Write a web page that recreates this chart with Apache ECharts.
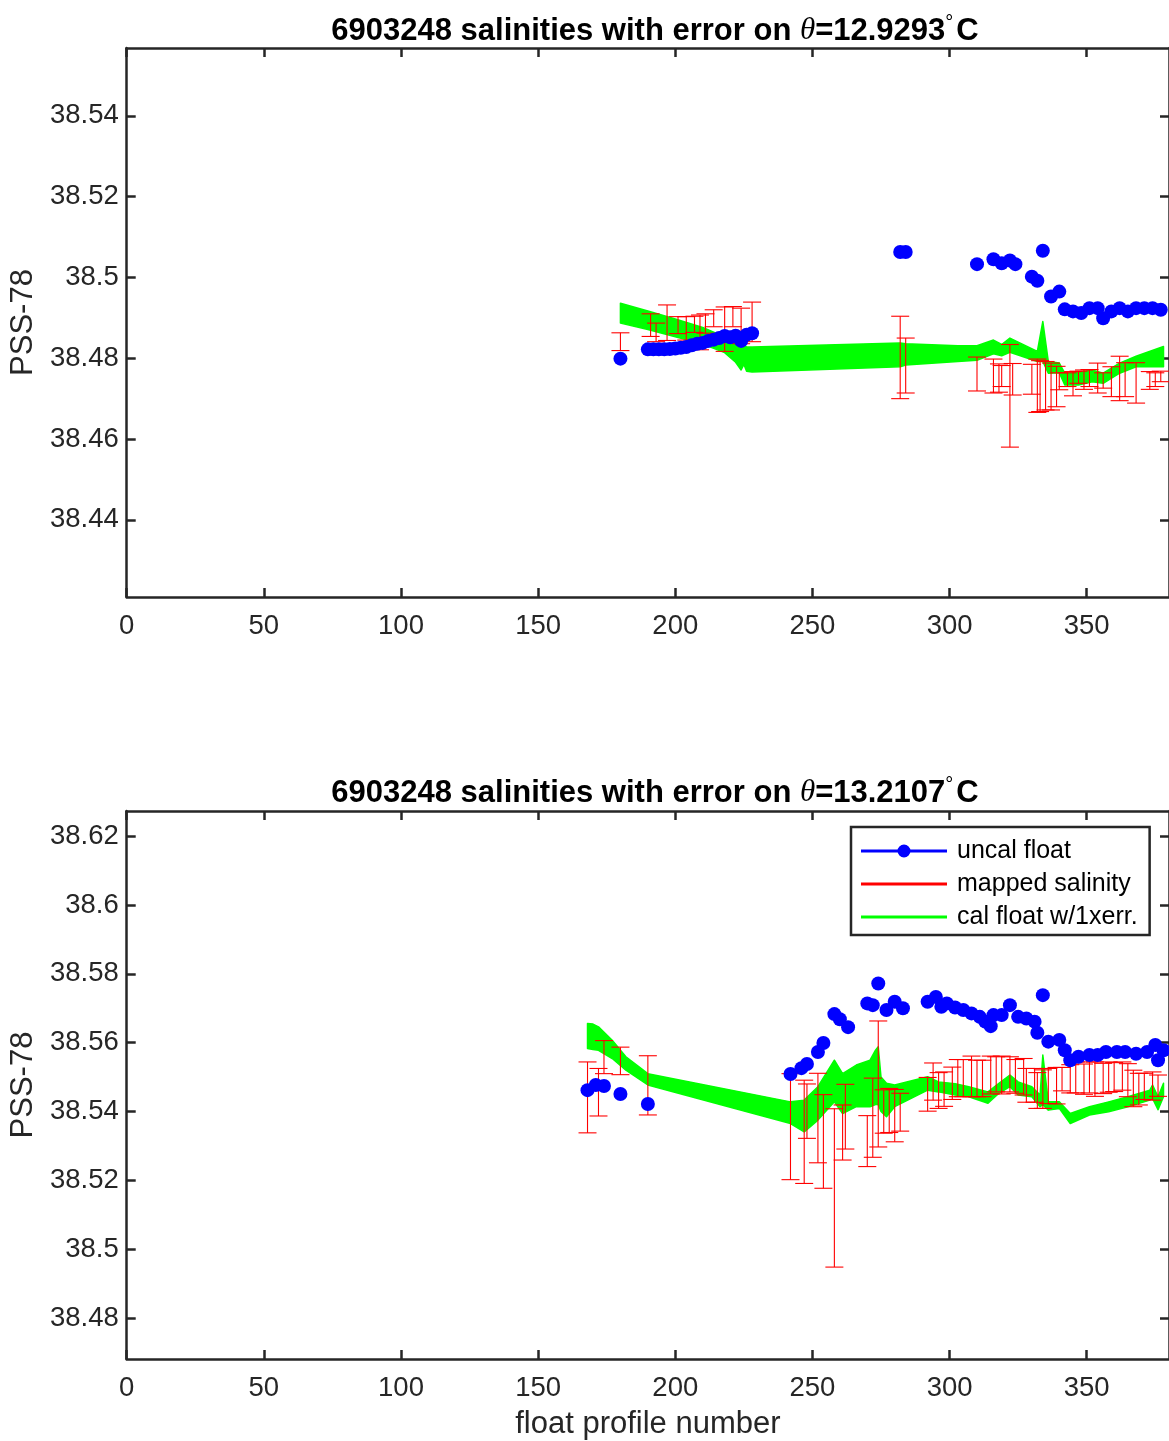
<!DOCTYPE html>
<html>
<head>
<meta charset="utf-8">
<script src="https://cdn.jsdelivr.net/npm/echarts@6/dist/echarts.min.js"></script>
<style>
html,body{margin:0;padding:0;background:#fff;overflow:hidden;}
#chart{width:1169px;height:1441px;}
</style>
</head>
<body>
<div id="chart"></div>
<script>
// ---------- DATA ----------
const xTicks = [0, 50, 100, 150, 200, 250, 300, 350];
const topYTicks = [38.44, 38.46, 38.48, 38.5, 38.52, 38.54];
const botYTicks = [38.48, 38.5, 38.52, 38.54, 38.56, 38.58, 38.6, 38.62];

// top panel (theta = 12.9293)
const topUncalX = [180,190,192,194,196,198,200,202,204,206,208,210,212,214,216,218,220,222,224,226,228,282,284,310,316,319,322,324,330,332,334,337,340,342,345,348,351,354,356,359,362,365,368,371,374,377];
const topUncalS = [38.4799,38.4822,38.4822,38.4822,38.4822,38.4823,38.4824,38.4826,38.4828,38.4832,38.4836,38.4838,38.4843,38.4846,38.4850,38.4855,38.4852,38.4856,38.4843,38.4858,38.4862,38.5063,38.5063,38.5033,38.5045,38.5035,38.5042,38.5033,38.5002,38.4992,38.5066,38.4953,38.4965,38.4921,38.4916,38.4912,38.4924,38.4924,38.4899,38.4916,38.4924,38.4916,38.4924,38.4924,38.4924,38.4920];

const topMapX = [180,191,193,197,201,204,207,209,211,214,218,221,224,228,282,284,310,316,318,319,322,323,330,332,333,335,337,339,340,343,345,347,349,351,354,356,359,362,364,368,373,375,377];
const topMapS = [38.4841,38.4882,38.4864,38.4888,38.4882,38.4874,38.4884,38.4864,38.4886,38.4899,38.4872,38.4903,38.4880,38.4890,38.4802,38.4782,38.4761,38.4756,38.4751,38.4756,38.4707,38.4748,38.4748,38.4732,38.4731,38.4732,38.4730,38.4730,38.4743,38.4747,38.4737,38.4753,38.4747,38.4751,38.4751,38.4745,38.4742,38.4750,38.4747,38.4739,38.4745,38.4747,38.4755];
const topMapErr = [0.0022,0.0028,0.0023,0.0044,0.0021,0.0029,0.0020,0.0043,0.0024,0.0021,0.0055,0.0025,0.0044,0.0049,0.0102,0.0068,0.0042,0.0042,0.0035,0.0026,0.0127,0.0039,0.0037,0.0066,0.0063,0.0060,0.0058,0.0050,0.0021,0.0017,0.0030,0.0015,0.0024,0.0021,0.0037,0.0019,0.0037,0.0055,0.0042,0.0050,0.0022,0.0017,0.0013];

const topBandX = [180,190,200,210,218,222,224,225,226,228,282,284,303,310,316,319,322,332,334,336,340,342,347,352,356,362,368,378];
const topBandLo = [38.4887,38.4871,38.4853,38.4835,38.4814,38.4790,38.4771,38.4785,38.4768,38.4766,38.4779,38.4783,38.4792,38.4795,38.4811,38.4806,38.4815,38.4792,38.4792,38.4763,38.4764,38.4734,38.4734,38.4742,38.4738,38.4763,38.4779,38.4779];
const topBandHi = [38.4936,38.4917,38.4897,38.4876,38.4853,38.4836,38.4830,38.4832,38.4828,38.4828,38.4838,38.4836,38.4831,38.4831,38.4845,38.4834,38.4850,38.4817,38.4891,38.4792,38.4788,38.4763,38.4765,38.4771,38.4763,38.4788,38.4805,38.4829];

// bottom panel (theta = 13.2107)
const botUncalX = [168,171,174,180,190,242,246,248,252,254,258,260,263,270,272,274,277,280,283,292,295,297,299,302,305,308,311,313,315,316,319,322,325,328,331,332,334,336,340,342,344,347,351,354,357,361,364,368,372,375,376,378];
const botUncalS = [38.5462,38.5477,38.5474,38.5451,38.5422,38.5509,38.5526,38.5538,38.5573,38.5599,38.5683,38.5668,38.5645,38.5714,38.5709,38.5772,38.5695,38.5719,38.5700,38.5719,38.5733,38.5704,38.5714,38.5702,38.5695,38.5685,38.5675,38.5661,38.5648,38.5680,38.5680,38.5709,38.5675,38.5670,38.5661,38.5629,38.5738,38.5603,38.5608,38.5578,38.5549,38.5559,38.5564,38.5564,38.5573,38.5573,38.5573,38.5568,38.5573,38.5593,38.5549,38.5578];

const botMapX = [168,172,174,180,190,242,247,248,252,254,258,261,262,270,272,274,276,278,280,282,292,294,296,298,301,303,305,308,310,312,315,317,319,322,324,327,328,331,332,334,336,339,341,344,346,349,351,353,356,358,360,363,365,367,369,371,374,376];
const botMapS = [38.5441,38.5456,38.5558,38.5547,38.5476,38.5356,38.5341,38.5401,38.5381,38.5313,38.5178,38.5339,38.5385,38.5314,38.5382,38.5480,38.5400,38.5403,38.5388,38.5398,38.5450,38.5487,38.5461,38.5465,38.5482,38.5497,38.5497,38.5502,38.5496,38.5496,38.5506,38.5508,38.5506,38.5508,38.5502,38.5501,38.5476,38.5476,38.5461,38.5465,38.5474,38.5475,38.5494,38.5495,38.5499,38.5494,38.5499,38.5494,38.5496,38.5500,38.5500,38.5503,38.5491,38.5467,38.5465,38.5473,38.5474,38.5475];
const botMapErr = [0.0103,0.0069,0.0048,0.0040,0.0086,0.0154,0.0150,0.0079,0.0130,0.0136,0.0230,0.0080,0.0094,0.0074,0.0115,0.0183,0.0063,0.0064,0.0076,0.0055,0.0049,0.0054,0.0052,0.0050,0.0047,0.0054,0.0054,0.0059,0.0053,0.0053,0.0055,0.0051,0.0055,0.0051,0.0049,0.0053,0.0049,0.0049,0.0052,0.0056,0.0051,0.0053,0.0034,0.0041,0.0045,0.0044,0.0045,0.0050,0.0044,0.0044,0.0042,0.0041,0.0048,0.0053,0.0046,0.0038,0.0041,0.0031];

const botBandX = [168,170,172,177,182,190,242,247,252,258,261,266,271,273,274,275,277,280,292,296,302,307,314,318,322,325,330,333,334,336,340,344,351,358,365,373,374,376,378];
const botBandLo = [38.5583,38.5580,38.5578,38.5554,38.5520,38.5477,38.5365,38.5341,38.5375,38.5428,38.5394,38.5414,38.5414,38.5420,38.5420,38.5400,38.5385,38.5414,38.5462,38.5457,38.5448,38.5443,38.5424,38.5453,38.5472,38.5448,38.5443,38.5414,38.5420,38.5404,38.5409,38.5365,38.5390,38.5399,38.5414,38.5433,38.5438,38.5405,38.5443];
const botBandHi = [38.5656,38.5654,38.5646,38.5607,38.5559,38.5510,38.5428,38.5433,38.5472,38.5549,38.5510,38.5535,38.5549,38.5578,38.5588,38.5500,38.5482,38.5477,38.5501,38.5486,38.5481,38.5472,38.5457,38.5482,38.5506,38.5486,38.5472,38.5448,38.5564,38.5428,38.5428,38.5394,38.5414,38.5428,38.5443,38.5462,38.5477,38.5443,38.5482];

const titles = ['6903248 salinities with error on {i|θ}=12.9293{d|°}C',
                '6903248 salinities with error on {i|θ}=13.2107{d|°}C'];
const seriesNames = ['uncal float', 'mapped salinity', 'cal float w/1xerr.'];

// ---------- STYLE ----------
const FONT = "'Liberation Sans', Arial, Helvetica, sans-serif";
const AX = '#262626';
const BLUE = '#0000ff', RED = '#ff0000', GREEN = '#00ff00';
const X_MIN = 0, X_MAX = 380;
const topRange = [38.4209, 38.5568];
const botRange = [38.4681, 38.6273];

const chart = echarts.init(document.getElementById('chart'), null, {renderer: 'canvas'});

function fmt(v) { return String(+(+v).toFixed(3)); }

function xAxes(gridIndex, showName) {
  return [{
    type: 'value', gridIndex, position: 'bottom', min: X_MIN, max: X_MAX,
    axisLine: {show: true, onZero: false, lineStyle: {color: AX, width: 2.5}},
    axisTick: {show: true, inside: true, length: 9, customValues: xTicks, lineStyle: {color: AX, width: 2.5}},
    axisLabel: {show: true, customValues: xTicks, margin: 15, fontSize: 27.5, color: AX, fontFamily: FONT, formatter: fmt},
    splitLine: {show: false},
    name: showName ? 'float profile number' : '', nameLocation: 'middle', nameGap: 50,
    nameTextStyle: {fontSize: 31, color: AX, fontFamily: FONT}
  }, {
    type: 'value', gridIndex, position: 'top', min: X_MIN, max: X_MAX,
    axisLine: {show: true, onZero: false, lineStyle: {color: AX, width: 2.5}},
    axisTick: {show: true, inside: true, length: 9, customValues: xTicks, lineStyle: {color: AX, width: 2.5}},
    axisLabel: {show: false}, splitLine: {show: false}
  }];
}
function yAxes(gridIndex, range, ticks) {
  return [{
    type: 'value', gridIndex, position: 'left', min: range[0], max: range[1],
    axisLine: {show: true, onZero: false, lineStyle: {color: AX, width: 2.5}},
    axisTick: {show: true, inside: true, length: 9, customValues: ticks, lineStyle: {color: AX, width: 2.5}},
    axisLabel: {show: true, customValues: ticks, margin: 8, fontSize: 27.5, color: AX, fontFamily: FONT, formatter: fmt},
    splitLine: {show: false},
    name: 'PSS-78', nameLocation: 'middle', nameGap: 82, nameRotate: 90,
    nameTextStyle: {fontSize: 31, color: AX, fontFamily: FONT}
  }, {
    type: 'value', gridIndex, position: 'right', min: range[0], max: range[1],
    axisLine: {show: true, onZero: false, lineStyle: {color: AX, width: 2.5}},
    axisTick: {show: true, inside: true, length: 9, customValues: ticks, lineStyle: {color: AX, width: 2.5}},
    axisLabel: {show: false}, splitLine: {show: false}
  }];
}

function errRender(params, api) {
  const x = api.value(0), c = api.value(1), e = api.value(2);
  const hi = api.coord([x, c + e]);
  const lo = api.coord([x, c - e]);
  const hw = 9;
  const st = {stroke: RED, lineWidth: 1.1};
  return {type: 'group', children: [
    {type: 'line', shape: {x1: hi[0], y1: hi[1], x2: lo[0], y2: lo[1]}, style: st},
    {type: 'line', shape: {x1: hi[0] - hw, y1: hi[1], x2: hi[0] + hw, y2: hi[1]}, style: st},
    {type: 'line', shape: {x1: lo[0] - hw, y1: lo[1], x2: lo[0] + hw, y2: lo[1]}, style: st}
  ]};
}

function makeBandRender(bX, bLo, bHi) {
  return function (params, api) {
    if (params.dataIndex !== 0) return null;
    const pts = [];
    for (let i = 0; i < bX.length; i++) pts.push(api.coord([bX[i], bHi[i]]));
    for (let i = bX.length - 1; i >= 0; i--) pts.push(api.coord([bX[i], bLo[i]]));
    return {
      type: 'polygon', shape: {points: pts},
      style: {fill: GREEN, stroke: GREEN, lineWidth: 1.5, lineJoin: 'round'}
    };
  };
}

function panelSeries(xi, yi, uX, uS, mX, mS, mE, bX, bLo, bHi) {
  return [
    {
      name: seriesNames[2], type: 'custom', xAxisIndex: xi, yAxisIndex: yi, z: 2, silent: true,
      itemStyle: {color: GREEN}, renderItem: makeBandRender(bX, bLo, bHi),
      encode: {x: 0, y: [1, 2]},
      data: bX.map((x, i) => [x, bLo[i], bHi[i]])
    },
    {
      name: seriesNames[1], type: 'custom', xAxisIndex: xi, yAxisIndex: yi, z: 3, silent: true,
      itemStyle: {color: RED}, renderItem: errRender, encode: {x: 0, y: 1},
      data: mX.map((x, i) => [x, mS[i], mE[i]])
    },
    {
      name: seriesNames[0], type: 'scatter', xAxisIndex: xi, yAxisIndex: yi, z: 4, silent: true,
      symbol: 'circle', symbolSize: 14, itemStyle: {color: BLUE, opacity: 1},
      data: uX.map((x, i) => [x, uS[i]])
    }
  ];
}

const titleStyle = {
  fontSize: 31, fontWeight: 'bold', color: '#000', fontFamily: FONT,
  rich: {
    i: {fontSize: 31, fontStyle: 'italic', fontWeight: 'normal', fontFamily: "'Liberation Serif', serif", color: '#000'},
    d: {fontSize: 20, fontWeight: 'normal', color: '#000', fontFamily: FONT, padding: [0, 3, 16, 0]}
  }
};

const option = {
  animation: false,
  backgroundColor: '#fff',
  title: [
    {text: titles[0], left: 650, top: 8, textAlign: 'center', textStyle: titleStyle},
    {text: titles[1], left: 650, top: 770, textAlign: 'center', textStyle: titleStyle}
  ],
  grid: [
    {left: 125, top: 48, width: 1050, height: 549},
    {left: 125, top: 811, width: 1050, height: 548}
  ],
  xAxis: [...xAxes(0, false), ...xAxes(1, true)],
  yAxis: [...yAxes(0, topRange, topYTicks), ...yAxes(1, botRange, botYTicks)],
  legend: {
    orient: 'vertical', left: 851, top: 827,
    padding: [10, 12, 4, 10], itemGap: 5, itemWidth: 86, itemHeight: 14,
    symbolKeepAspect: true,
    backgroundColor: '#fff', borderColor: AX, borderWidth: 2.5, borderRadius: 0,
    selectedMode: false,
    itemStyle: {borderWidth: 0},
    textStyle: {fontSize: 25, color: '#000', fontFamily: FONT, lineHeight: 28, padding: [0, 0, 0, 5]},
    data: [
      {name: seriesNames[0], icon: 'path://M0,5.5H86V8.5H0Z M36.5,7 A6.5,6.5 0 1 1 49.5,7 A6.5,6.5 0 1 1 36.5,7Z'},
      {name: seriesNames[1], icon: 'path://M0,5.5H86V8.5H0Z'},
      {name: seriesNames[2], icon: 'path://M0,5.5H86V8.5H0Z'}
    ]
  },
  series: [
    ...panelSeries(0, 0, topUncalX, topUncalS, topMapX, topMapS, topMapErr, topBandX, topBandLo, topBandHi),
    ...panelSeries(2, 2, botUncalX, botUncalS, botMapX, botMapS, botMapErr, botBandX, botBandLo, botBandHi)
  ]
};
chart.setOption(option);
</script>
</body>
</html>
